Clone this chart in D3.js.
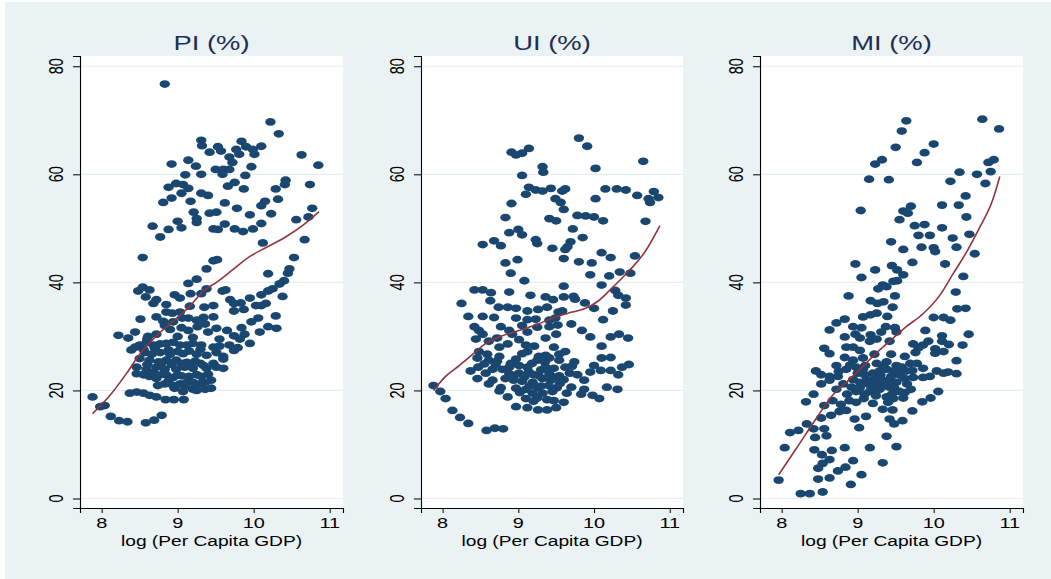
<!DOCTYPE html>
<html>
<head>
<meta charset="utf-8">
<script src="https://cdn.jsdelivr.net/npm/d3@7"></script>
<style>
  body { margin: 0; background: #ffffff; }
  svg { display: block; }
  text { font-family: "Liberation Sans", Arial, sans-serif; }
</style>
</head>
<body>
<div id="chart-area"></div>
<script>
// ---- data ----
const panelTitles = ["PI (%)", "UI (%)", "MI (%)"];
const xTicks = [8, 9, 10, 11];
const yTicks = [0, 20, 40, 60, 80];
const xLabel = "log (Per Capita GDP)";

const piPoints = [
  [8.83,76.7],[10.22,69.7],[10.33,67.5],[9.31,66.3],[9.32,65.3],[9.84,66.1],[9.53,65.1],[9.42,64.1],[9.57,64.3],
  [9.77,64.6],[9.90,65.1],[9.99,64.6],[10.10,65.2],[10.01,63.7],[9.68,63.2],[9.81,63.7],[10.63,63.6],[8.92,61.9],
  [9.14,62.6],[9.24,61.5],[9.72,62.2],[9.97,61.4],[10.85,61.7],[9.50,60.9],[9.60,60.9],[9.68,60.9],[9.31,60.0],
  [9.10,59.9],[9.59,60.0],[9.89,59.8],[10.42,58.9],[10.74,58.1],[8.88,57.6],[8.98,58.3],[9.07,58.1],[9.14,57.4],
  [9.75,58.5],[9.66,57.8],[9.87,57.3],[10.29,57.3],[10.41,58.1],[8.92,55.6],[9.05,56.5],[9.31,56.5],[9.40,56.1],
  [8.81,54.8],[9.17,55.0],[9.62,54.7],[9.78,53.7],[10.15,55.0],[10.10,54.2],[10.32,55.4],[9.21,53.0],[9.25,51.8],
  [9.25,51.1],[9.42,52.8],[9.51,53.0],[9.95,52.5],[10.23,52.7],[10.77,53.7],[10.56,51.6],[10.72,52.1],[9.00,51.3],
  [9.05,50.1],[8.67,50.4],[8.88,49.8],[9.47,49.9],[9.53,49.8],[9.62,50.8],[9.75,49.9],[9.86,49.4],[9.99,49.9],
  [10.10,50.9],[8.77,48.4],[10.12,47.3],[10.67,47.9],[8.54,44.6],[10.53,44.6],[10.47,42.5],[10.45,41.7],[10.19,41.6],
  [9.47,44.0],[9.52,44.2],[9.38,42.5],[9.25,40.6],[9.14,39.8],[10.40,40.3],[10.34,39.7],[10.25,38.8],[10.19,38.4],
  [10.38,37.4],[10.10,37.7],[9.95,37.1],[10.16,36.1],[10.03,35.7],[10.10,35.7],[10.29,33.8],[10.06,33.4],[9.97,32.7],
  [10.19,31.8],[10.30,31.5],[10.08,30.8],[9.88,30.4],[9.84,31.6],[8.48,38.4],[8.54,39.1],[8.63,38.6],[8.58,37.3],
  [8.72,36.8],[8.68,36.1],[8.85,35.9],[8.96,37.7],[9.03,37.1],[9.17,37.9],[9.31,37.9],[9.38,38.8],[9.59,38.4],
  [9.63,38.6],[9.69,36.8],[9.74,36.1],[9.83,36.2],[9.87,35.0],[9.74,34.7],[9.35,35.4],[9.47,35.7],[9.16,35.6],
  [9.03,34.5],[8.93,34.3],[8.85,34.5],[8.51,33.2],[8.72,33.6],[8.81,32.8],[8.94,32.7],[9.06,33.4],[9.14,33.4],
  [9.34,33.5],[9.47,33.6],[8.22,30.2],[8.35,29.7],[8.44,30.8],[8.61,30.0],[8.72,30.4],[8.83,32.0],[8.90,31.3],
  [9.05,31.6],[9.14,31.1],[9.26,31.8],[9.36,32.3],[9.40,30.8],[9.51,31.5],[9.65,31.1],[9.74,30.1],[9.82,29.5],
  [8.44,28.0],[8.50,28.4],[8.59,28.9],[8.68,28.4],[8.77,28.6],[8.85,28.7],[8.94,28.9],[9.03,28.4],[9.12,28.4],
  [9.20,28.7],[9.31,28.4],[9.47,28.0],[9.55,28.2],[9.68,28.4],[9.79,27.9],[9.95,28.7],[8.39,27.5],[8.57,27.0],
  [8.66,26.7],[8.77,27.0],[8.90,26.7],[9.07,26.8],[9.25,26.7],[9.38,26.5],[9.51,27.0],[9.60,26.3],[9.74,27.4],
  [8.50,25.9],[8.63,25.6],[8.75,25.3],[8.85,25.6],[8.98,25.6],[9.12,25.2],[9.23,25.4],[9.34,24.6],[9.47,25.0],
  [9.60,25.8],[8.46,24.3],[8.59,23.9],[8.72,24.3],[8.83,23.9],[8.98,23.9],[9.09,24.3],[9.20,24.1],[9.38,24.1],
  [9.51,24.3],[9.60,24.1],[8.46,23.1],[8.55,22.9],[8.63,22.6],[8.72,22.2],[8.85,22.9],[8.94,22.4],[9.05,22.7],
  [9.25,22.9],[9.31,22.6],[9.44,21.9],[8.74,20.9],[8.83,21.2],[8.94,20.9],[9.03,21.2],[9.12,21.5],[9.20,21.5],
  [9.29,21.2],[9.36,21.5],[8.96,20.4],[9.07,19.8],[9.20,20.2],[9.36,20.2],[9.44,20.4],[8.37,19.5],[8.46,19.7],
  [8.55,19.5],[8.63,19.1],[8.72,18.8],[8.84,18.3],[8.95,18.3],[9.08,18.3],[7.88,18.8],[7.98,17.0],[8.04,17.2],
  [8.12,15.2],[8.23,14.4],[8.34,14.2],[8.58,14.0],[8.69,14.5],[8.79,15.4],
  [8.55,27.6],[8.70,27.8],[8.88,27.5],[9.00,27.2],[9.15,27.3],[9.30,27.6],[8.60,24.8],[8.78,24.9],[8.92,24.8],
  [9.05,25.0],[9.16,24.7],[9.30,25.0],[8.68,23.3],[8.80,23.0],[9.00,22.9],[9.15,22.6],[9.40,23.0],[8.88,21.8],
  [9.10,20.8],[9.25,20.0],[8.60,29.5],[9.00,30.0],[9.20,29.8],[9.55,29.5],[9.25,33.0]
];
const piLowess = [
  [7.88,15.7],[8.11,19.1],[8.33,23.2],[8.50,26.7],[8.72,30.1],[8.94,32.8],[9.16,35.6],[9.33,38.3],
  [9.51,40.0],[9.73,42.4],[9.95,44.8],[10.17,46.5],[10.43,48.5],[10.65,50.6],[10.86,53.1]
];

const uiPoints = [
  [9.80,66.7],[9.91,65.2],[9.14,64.8],[8.91,64.1],[8.97,63.6],[9.05,63.9],[10.65,62.4],[9.32,61.4],[9.33,60.4],
  [10.02,61.1],[9.05,59.8],[9.14,57.6],[9.10,56.3],[9.23,57.1],[9.32,56.9],[9.43,57.4],[9.62,57.3],[9.58,56.9],
  [10.15,57.3],[10.30,57.3],[10.42,57.1],[10.57,56.1],[10.79,56.8],[10.85,55.7],[10.72,55.5],[10.74,54.8],[10.02,55.5],
  [9.49,55.5],[9.56,54.8],[8.91,54.6],[9.60,53.5],[8.83,52.0],[9.41,51.8],[9.50,51.4],[9.78,52.4],[9.89,52.3],
  [10.00,52.1],[10.12,51.4],[10.68,51.3],[8.88,49.2],[9.00,49.8],[9.05,48.8],[9.72,49.9],[9.85,48.3],[9.23,47.9],
  [9.25,47.2],[8.53,47.0],[8.68,47.7],[8.77,46.8],[9.69,47.5],[9.65,46.6],[9.62,46.1],[9.45,46.3],[10.10,45.5],
  [10.22,44.6],[10.54,44.9],[8.83,43.6],[8.99,44.2],[9.80,43.8],[9.97,43.6],[9.60,44.4],[8.90,41.7],[9.95,41.4],
  [10.20,41.2],[10.34,41.9],[10.48,41.7],[9.08,40.3],[9.60,39.3],[10.10,39.5],[8.42,38.6],[8.53,38.6],[8.64,38.1],
  [8.88,38.2],[9.16,37.6],[9.36,37.3],[9.60,37.3],[9.73,37.4],[9.75,36.9],[9.46,36.8],[9.88,36.2],[10.00,35.2],
  [10.28,38.5],[10.32,37.6],[10.42,37.1],[10.42,35.8],[8.25,36.1],[8.63,36.6],[8.74,35.4],[8.86,35.4],[8.97,35.2],
  [9.12,34.7],[9.26,35.0],[9.38,35.4],[9.53,34.5],[9.58,34.7],[10.25,34.7],[8.34,33.7],[8.53,33.7],[8.68,33.5],
  [8.97,33.4],[9.12,33.1],[9.23,33.2],[9.41,33.0],[9.49,33.4],[10.12,33.1],[8.42,31.8],[8.48,31.1],[8.77,31.8],
  [8.88,31.1],[9.05,32.0],[9.25,31.7],[9.41,31.8],[9.52,32.1],[9.70,32.3],[9.84,31.1],[9.12,30.8],[8.53,30.4],
  [8.72,29.7],[8.92,30.4],[9.01,29.4],[9.36,29.7],[9.50,30.4],[9.95,29.9],[10.22,29.9],[10.33,30.4],[10.45,29.7],
  [8.44,29.5],[8.61,29.1],[8.75,28.0],[8.86,28.6],[9.10,28.4],[9.21,28.2],[9.47,28.0],[10.10,28.2],[8.48,27.2],
  [8.59,26.7],[8.75,26.3],[9.12,27.2],[9.27,26.3],[9.36,26.5],[9.54,26.7],[9.62,27.2],[8.46,26.0],[8.61,25.6],
  [8.72,25.4],[8.97,25.8],[9.25,25.6],[9.41,26.0],[9.54,25.6],[9.74,25.3],[10.10,26.0],[10.22,26.1],[10.46,24.8],
  [10.37,24.3],[8.47,24.3],[8.66,23.9],[8.79,23.9],[8.88,24.3],[9.01,24.6],[9.12,24.3],[9.36,24.3],[9.47,24.1],
  [9.62,24.3],[9.71,24.5],[10.00,24.6],[8.37,23.6],[8.57,23.2],[8.88,23.1],[9.01,23.2],[9.14,23.4],[9.27,22.7],
  [9.41,23.1],[9.54,22.7],[9.78,22.9],[9.95,23.4],[10.09,23.7],[10.22,23.7],[10.32,22.9],[8.46,22.2],[8.66,21.9],
  [8.83,22.2],[8.94,21.9],[9.05,21.7],[9.19,21.5],[9.32,22.2],[9.43,21.9],[9.60,22.0],[9.87,21.9],[8.61,21.2],
  [8.77,20.5],[8.97,20.4],[9.10,20.2],[9.26,20.5],[9.40,20.9],[9.51,20.5],[9.70,20.6],[10.17,20.6],[10.31,20.2],
  [7.88,20.9],[7.97,19.8],[8.04,18.5],[8.75,19.9],[9.19,19.5],[9.32,19.5],[9.64,19.5],[9.87,20.2],[9.83,19.3],
  [9.98,19.1],[10.07,18.5],[8.86,18.8],[9.10,18.5],[9.25,18.6],[9.38,18.3],[9.47,18.1],[9.60,17.8],[8.97,17.0],
  [9.12,16.8],[9.26,16.4],[9.38,16.4],[9.50,16.8],[8.13,16.3],[8.23,15.0],[8.34,13.9],[8.58,12.6],[8.69,13.0],
  [8.80,12.9],
  [8.95,22.8],[9.08,22.5],[9.20,22.9],[9.30,23.8],[9.48,22.4],[9.55,21.3],[9.15,20.8],[9.02,19.6],[9.30,20.8],
  [9.45,19.8],[8.90,25.0],[9.18,25.0],[9.35,25.2],[9.05,26.8],[8.70,24.8],[8.55,24.9],[9.68,23.2],[9.20,18.0]
];
const uiLowess = [
  [7.88,20.0],[8.04,22.6],[8.22,24.6],[8.40,26.7],[8.57,28.7],[8.79,30.1],[9.01,31.1],[9.23,32.1],
  [9.45,33.4],[9.71,34.5],[9.89,35.2],[10.06,36.6],[10.24,39.0],[10.46,42.1],[10.68,45.8],[10.87,50.5]
];

const miPoints = [
  [9.64,69.9],[10.64,70.2],[10.86,68.4],[9.58,68.0],[9.50,65.0],[10.00,65.6],[9.88,64.0],[9.32,62.7],[9.23,61.9],
  [9.78,62.2],[10.72,62.2],[10.79,62.7],[10.34,60.4],[10.57,60.0],[10.75,60.5],[9.15,59.1],[9.41,59.0],[10.68,58.3],
  [10.22,58.7],[10.42,56.0],[9.04,53.3],[10.11,54.3],[10.33,54.3],[9.70,54.1],[9.60,53.2],[9.66,52.8],[10.43,52.1],
  [9.55,51.6],[9.75,50.5],[9.88,50.7],[10.11,50.1],[10.47,48.9],[9.80,48.7],[9.95,48.7],[10.25,48.2],[9.44,47.5],
  [9.84,46.5],[10.00,46.4],[10.30,46.5],[9.60,46.1],[10.02,45.7],[10.54,45.3],[9.72,43.7],[8.97,43.4],[10.15,43.4],
  [9.45,43.1],[9.52,42.3],[9.23,42.3],[9.60,41.4],[9.05,40.9],[9.47,40.2],[9.52,40.3],[10.39,41.1],[9.33,39.5],
  [9.27,38.8],[9.38,39.2],[10.29,38.2],[8.88,37.5],[9.49,37.5],[9.17,36.6],[9.26,36.1],[9.34,36.4],[9.46,35.4],
  [10.31,35.1],[10.42,35.2],[9.07,33.6],[9.17,34.0],[9.25,34.3],[9.39,33.7],[10.00,33.5],[10.13,33.5],[10.22,33.0],
  [8.63,31.2],[8.72,32.5],[8.83,33.2],[8.94,31.8],[9.05,31.6],[8.83,29.9],[8.97,30.4],[9.03,29.7],[9.17,30.3],
  [9.31,30.8],[9.37,31.8],[9.49,31.6],[9.51,30.8],[9.89,31.1],[10.11,30.1],[10.46,30.4],[9.16,29.1],[9.25,29.5],
  [9.42,29.1],[9.73,28.6],[9.93,29.1],[10.11,29.1],[10.20,28.5],[10.38,28.4],[8.56,27.8],[8.63,26.8],[8.85,28.0],
  [8.94,28.0],[9.03,27.4],[9.80,27.9],[9.86,28.4],[10.02,27.7],[10.13,27.2],[8.72,24.6],[8.83,26.1],[8.94,25.6],
  [9.07,26.0],[9.22,26.7],[9.44,26.7],[9.62,26.3],[9.76,27.0],[10.02,26.9],[10.30,25.5],[8.45,23.6],[8.52,22.9],
  [8.63,22.6],[8.74,22.6],[8.85,23.9],[8.98,24.3],[9.07,23.9],[9.25,25.0],[9.38,25.3],[9.51,24.6],[9.69,25.0],
  [9.78,25.0],[9.86,24.1],[10.04,23.6],[10.13,23.2],[10.19,23.4],[10.30,23.1],[8.52,21.2],[8.63,21.9],[8.72,20.2],
  [8.81,21.2],[8.94,22.0],[9.03,21.5],[9.14,21.2],[9.22,22.2],[9.33,21.9],[9.44,22.6],[9.51,21.5],[9.62,22.2],
  [9.73,22.4],[9.86,22.4],[9.95,22.6],[10.06,19.8],[9.18,20.5],[9.29,20.2],[9.42,20.6],[9.55,19.8],[9.70,20.2],
  [8.86,19.3],[8.98,19.8],[9.09,19.3],[9.24,19.0],[9.38,18.8],[9.47,18.5],[9.60,18.6],[8.32,17.9],[8.42,19.3],
  [8.56,17.2],[8.67,18.1],[8.78,17.4],[8.89,18.1],[8.98,17.8],[9.20,17.6],[9.85,17.9],[9.96,18.6],[9.33,16.5],
  [9.46,16.4],[9.72,16.2],[8.52,14.9],[8.65,15.4],[8.76,16.1],[8.85,16.3],[8.96,14.7],[9.11,15.2],[9.42,14.7],
  [9.48,13.8],[9.59,14.4],[8.33,13.8],[8.42,12.9],[8.56,12.9],[8.22,12.6],[8.11,12.2],[8.44,11.3],[8.59,11.6],
  [9.02,13.1],[9.38,11.5],[8.04,9.4],[8.43,9.0],[8.66,8.9],[8.83,9.4],[9.16,9.4],[9.51,9.6],[8.53,8.1],
  [8.63,7.2],[8.94,7.0],[9.33,6.6],[8.54,6.5],[8.48,5.6],[8.74,5.1],[8.84,5.8],[9.05,4.4],[7.96,3.4],
  [8.48,3.6],[8.63,3.8],[8.91,2.6],[8.25,0.9],[8.37,0.9],[8.54,1.2],
  [9.09,22.9],[9.20,23.2],[9.29,23.6],[9.38,23.9],[9.47,23.6],[9.55,23.2],[9.64,23.6],[9.16,19.8],[9.36,20.9],
  [9.48,20.5],[9.65,21.2],[9.03,20.5],
  [9.12,22.0],[9.26,21.2],[9.40,21.6],[9.56,22.8],[9.30,22.9],[9.00,23.2],[9.10,24.6],[9.34,24.5],[9.58,24.3],
  [9.25,19.9],[9.45,19.3],[9.62,19.6],[9.08,18.5],[8.92,20.6],[9.40,17.8],[9.72,23.7],[8.75,23.5],[8.90,24.7]
];
const miLowess = [
  [7.96,4.4],[8.19,9.2],[8.45,14.7],[8.67,19.1],[8.85,21.5],[9.03,23.9],[9.20,26.3],[9.42,29.1],
  [9.64,31.8],[9.86,34.2],[10.08,37.6],[10.26,41.7],[10.44,45.8],[10.61,50.3],[10.77,55.0],[10.87,59.6]
];

const panels = [
  { title: panelTitles[0], points: piPoints, lowess: piLowess, left: 80, right: 343 },
  { title: panelTitles[1], points: uiPoints, lowess: uiLowess, left: 421, right: 683 },
  { title: panelTitles[2], points: miPoints, lowess: miLowess, left: 760, right: 1023 }
];

// ---- layout ----
const config = { width: 1051, height: 579, top: 56, bottom: 508 };
const stretch = 1.37;   // picture is wider than tall, text and markers too

const svg = d3.select('#chart-area')
  .append('svg')
  .attr('width', config.width)
  .attr('height', config.height);

svg.append('rect')
  .attr('x', 5).attr('y', 2)
  .attr('width', config.width - 5).attr('height', config.height - 2)
  .attr('fill', '#eaf2f3');

const yScale = d3.scaleLinear()
  .domain([-1.76, 81.9])
  .range([config.bottom, config.top]);

panels.forEach(p => {
  const xScale = d3.scaleLinear()
    .domain([7.715, 11.175])
    .range([p.left, p.right]);

  const g = svg.append('g');

  g.append('rect')
    .attr('x', p.left).attr('y', config.top)
    .attr('width', p.right - p.left).attr('height', config.bottom - config.top)
    .attr('fill', '#ffffff');

  g.selectAll('.grid').data(yTicks).enter().append('line')
    .attr('x1', p.left).attr('x2', p.right)
    .attr('y1', d => yScale(d)).attr('y2', d => yScale(d))
    .attr('stroke', '#e4eef0').attr('stroke-width', 1.2);

  // axes
  const yAxis = g.append('g')
    .attr('transform', `translate(${p.left},0)`)
    .call(d3.axisLeft(yScale).tickValues(yTicks).tickSize(7).tickFormat(''));
  const xAxis = g.append('g')
    .attr('transform', `translate(0,${config.bottom})`)
    .call(d3.axisBottom(xScale).tickValues(xTicks).tickSize(5).tickFormat(''));
  [yAxis, xAxis].forEach(a => {
    a.select('.domain').attr('stroke', '#000').attr('stroke-width', 1.1);
    a.selectAll('.tick line').attr('stroke', '#000').attr('stroke-width', 1);
  });

  // tick labels
  g.selectAll('.ylab').data(yTicks).enter().append('text')
    .attr('transform', d => `translate(${p.left - 17},${yScale(d)}) scale(${stretch},1) rotate(-90)`)
    .attr('text-anchor', 'middle')
    .attr('font-size', '14.5px')
    .attr('fill', '#000')
    .text(d => d);

  g.selectAll('.xlab').data(xTicks).enter().append('text')
    .attr('transform', d => `translate(${xScale(d)},${config.bottom + 20}) scale(${stretch},1)`)
    .attr('text-anchor', 'middle')
    .attr('font-size', '14.5px')
    .attr('fill', '#000')
    .text(d => d);

  g.append('text')
    .attr('transform', `translate(${(p.left + p.right) / 2},${config.bottom + 38}) scale(${stretch},1)`)
    .attr('text-anchor', 'middle')
    .attr('font-size', '14px')
    .attr('fill', '#000')
    .text(xLabel);

  g.append('text')
    .attr('transform', `translate(${(p.left + p.right) / 2},${config.top - 6}) scale(${stretch},1)`)
    .attr('text-anchor', 'middle')
    .attr('font-size', '20px')
    .attr('fill', '#1e2f55')
    .text(p.title);

  // markers
  g.selectAll('.pt').data(p.points).enter().append('ellipse')
    .attr('cx', d => xScale(d[0]))
    .attr('cy', d => yScale(d[1]))
    .attr('rx', 5.2)
    .attr('ry', 3.9)
    .attr('fill', '#1a476f');

  // lowess line
  const line = d3.line()
    .x(d => xScale(d[0]))
    .y(d => yScale(d[1]))
    .curve(d3.curveMonotoneX);
  g.append('path')
    .datum(p.lowess)
    .attr('d', line)
    .attr('fill', 'none')
    .attr('stroke', '#90353b')
    .attr('stroke-width', 1.6);
});
</script>
</body>
</html>
